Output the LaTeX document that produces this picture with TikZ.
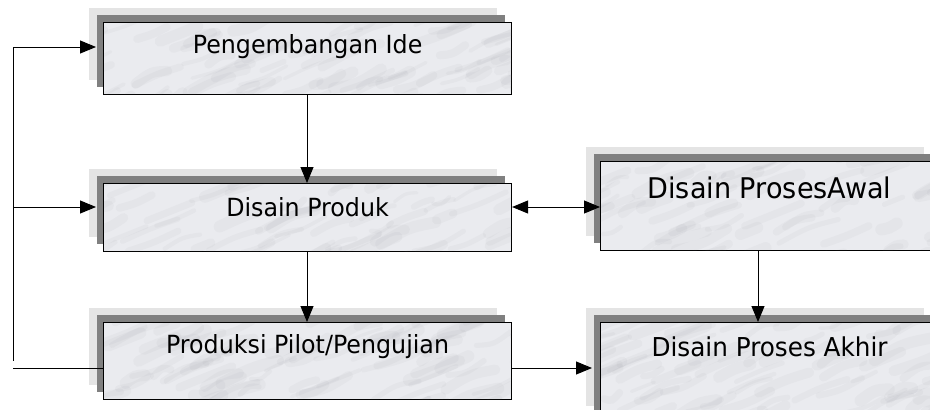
\documentclass[tikz,border=0pt]{standalone}
\usepackage{fontspec}
\setmainfont[FakeStretch=0.95]{DejaVu Sans}
\usetikzlibrary{arrows.meta,shadows,calc}
\definecolor{marble}{RGB}{234,235,239}
\definecolor{vein}{RGB}{150,152,160}
\definecolor{shlight}{RGB}{228,228,228}
\definecolor{shdark}{RGB}{128,128,128}
\tikzset{
  box/.style={draw=black, line width=1.1pt, fill=marble, inner sep=0pt, anchor=north west,
    general shadow={fill=shlight, draw=none, shadow xshift=-14.5pt, shadow yshift=15pt},
    general shadow={fill=shdark, draw=none, shadow xshift=-7pt, shadow yshift=7.5pt}},
  txt/.style={font=\fontsize{25}{28}\selectfont, text=black, inner sep=0pt},
  conn/.style={line width=1pt, draw=black},
  arr/.style={conn, -{Triangle[length=16pt,width=13pt]}},
  darr/.style={conn, {Triangle[length=16pt,width=13pt]}-{Triangle[length=16pt,width=13pt]}}
}
\begin{document}
\begin{tikzpicture}[x=1pt,y=-1pt]
\useasboundingbox (0,0) rectangle (930,410);
\begin{scope}
\clip (0,0) rectangle (930,410);
\node[box, minimum width=408pt, minimum height=72pt] (b1) at (103,22) {};
\node[box, minimum width=408pt, minimum height=68pt] (b2) at (103,183) {};
\node[box, minimum width=338pt, minimum height=89pt] (b3) at (600,161) {};
\node[box, minimum width=408pt, minimum height=77pt] (b4) at (103,322) {};
\node[box, minimum width=338pt, minimum height=98pt] (b5) at (600,322) {};
% marble veins
\begin{scope}
\clip ([shift={(0.8,-0.8)}]b1.south west) rectangle ([shift={(-0.8,0.8)}]b1.north east)
      ([shift={(0.8,-0.8)}]b2.south west) rectangle ([shift={(-0.8,0.8)}]b2.north east)
      ([shift={(0.8,-0.8)}]b3.south west) rectangle ([shift={(-0.8,0.8)}]b3.north east)
      ([shift={(0.8,-0.8)}]b4.south west) rectangle ([shift={(-0.8,0.8)}]b4.north east)
      ([shift={(0.8,-0.8)}]b5.south west) rectangle ([shift={(-0.8,0.8)}]b5.north east);
\pgfmathsetseed{11}
\foreach \k in {1,...,700}{
  \pgfmathsetmacro\px{70+870*rnd}
  \pgfmathsetmacro\py{-10+430*rnd}
  \pgfmathsetmacro\lw{3+9*rnd}
  \pgfmathsetmacro\len{15+45*rnd}
  \pgfmathsetmacro\bend{-6+12*rnd}
  \draw[draw=vein, opacity=0.07, line width=\lw pt, line cap=round]
    (\px,\py) .. controls +(\len/2,-0.2*\len+\bend) .. +(\len,-0.4*\len);
}
\end{scope}
\end{scope}
% texts
\node[txt] (t1) at ($(b1.north)+(0,25)$) {Pengembangan Ide};
\node[txt] (t2) at ($(b2.north)+(0,24)$) {Disain Produk};
\node[txt, font=\fontsize{28.5}{32}\selectfont] (t3) at ($(b3.north)+(0,27)$) {Disain ProsesAwal};
\node[txt] (t4) at ($(b4.north)+(0,25)$) {Produksi Pilot/Pengujian};
\node[txt, font=\fontsize{26}{29}\selectfont] (t5) at ($(b5.north)+(0,25)$) {Disain Proses Akhir};
% feedback line
\coordinate (ft) at (13,47);
\coordinate (fb) at (13,361);
\coordinate (fm) at (13,207);
\coordinate (fl) at (13,368);
\draw[conn] (ft) -- (fb);
\draw[arr] (ft) -- ([xshift=-7pt]b1.west |- ft);
\draw[arr] (fm) -- ([xshift=-7pt]b2.west |- fm);
\draw[conn] (fl) -- (b4.west |- fl);
% vertical flows
\draw[arr] (b1.south -| 307,0) -- (b2.north -| 307,0);
\draw[arr] (b2.south -| 307,0) -- (b4.north -| 307,0);
\draw[arr] (b3.south -| 758,0) -- (b5.north -| 758,0);
% horizontal flows
\draw[darr] (b2.east |- fm) -- (b3.west |- fm);
\draw[arr] (b4.east |- fl) -- ([xshift=-8pt]b5.west |- fl);
\end{tikzpicture}
\end{document}
